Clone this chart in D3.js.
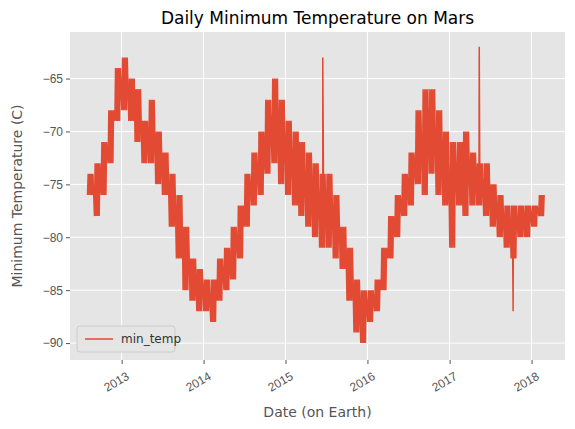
<!DOCTYPE html>
<html><head><meta charset="utf-8">
<script src="https://cdn.jsdelivr.net/npm/d3@7"></script>
<style>body{margin:0;background:#fff;font-family:"DejaVu Sans",sans-serif}</style>
</head><body><div id="chart"></div>
<script>
// monthly envelope of min_temp
const months = ["2012-08","2012-09","2012-10","2012-11","2012-12","2013-01","2013-02","2013-03","2013-04","2013-05","2013-06","2013-07","2013-08","2013-09","2013-10","2013-11","2013-12","2014-01","2014-02","2014-03","2014-04","2014-05","2014-06","2014-07","2014-08","2014-09","2014-10","2014-11","2014-12","2015-01","2015-02","2015-03","2015-04","2015-05","2015-06","2015-07","2015-08","2015-09","2015-10","2015-11","2015-12","2016-01","2016-02","2016-03","2016-04","2016-05","2016-06","2016-07","2016-08","2016-09","2016-10","2016-11","2016-12","2017-01","2017-02","2017-03","2017-04","2017-05","2017-06","2017-07","2017-08","2017-09","2017-10","2017-11","2017-12","2018-01","2018-02"];
const lows  = [-76,-78,-76,-73,-69,-68,-69,-71,-73,-73,-75,-76,-79,-82,-85,-86,-87,-87,-88,-86,-85,-84,-82,-79,-77,-76,-74,-73,-75,-76,-77,-78,-79,-80,-81,-81,-82,-83,-86,-89,-90,-88,-87,-85,-82,-80,-78,-77,-75,-76,-74,-76,-77,-81,-77,-78,-77,-77,-78,-79,-80,-81,-82,-80,-80,-79,-78];
const highs = [-74,-73,-71,-68,-64,-63,-65,-66,-69,-67,-70,-72,-74,-76,-79,-82,-83,-84,-84,-82,-81,-79,-77,-74,-72,-70,-67,-65,-67,-69,-70,-71,-72,-73,-74,-74,-76,-79,-81,-84,-85,-85,-84,-81,-78,-76,-74,-72,-68,-66,-66,-68,-70,-71,-71,-70,-72,-73,-73,-75,-76,-77,-77,-77,-77,-77,-76];
// isolated spikes
const spikeDates = ["2015-06-16","2017-05-13","2017-10-11"];
const spikeVals = [-63,-62,-87];
const yTicks = [-90,-85,-80,-75,-70,-65];
const xYears = [2013,2014,2015,2016,2017,2018];

const parse = d3.timeParse("%Y-%m-%d");
const points = [];
months.forEach((m, i) => {
  [2, 5, 9, 12, 16, 19, 23, 26].forEach((day, k) => {
    points.push({date: parse(`${m}-${String(day).padStart(2, "0")}`), v: k % 2 ? highs[i] : lows[i]});
  });
});
spikeDates.forEach((d, i) => points.push({date: parse(d), v: spikeVals[i]}));
points.sort((a, b) => a.date - b.date);

const width = 575, height = 429;
const margin = {top: 32, right: 10, bottom: 69, left: 70};
const x = d3.scaleTime()
  .domain([new Date(2012, 4, 16), new Date(2018, 4, 30)])
  .range([margin.left, width - margin.right]);
const y = d3.scaleLinear().domain([-91.6, -60.6]).range([height - margin.bottom, margin.top]);

const svg = d3.select("#chart").append("svg").attr("width", width).attr("height", height);
svg.append("rect").attr("x", margin.left).attr("y", margin.top)
  .attr("width", width - margin.left - margin.right).attr("height", height - margin.top - margin.bottom)
  .attr("fill", "#e5e5e5");

const xTicks = xYears.map((yr) => new Date(yr, 0, 1));
svg.append("g").selectAll("line").data(xTicks).join("line")
  .attr("x1", (d) => x(d)).attr("x2", (d) => x(d))
  .attr("y1", margin.top).attr("y2", height - margin.bottom)
  .attr("stroke", "#fff").attr("stroke-width", 1);
svg.append("g").selectAll("line").data(yTicks).join("line")
  .attr("x1", margin.left).attr("x2", width - margin.right)
  .attr("y1", (d) => y(d)).attr("y2", (d) => y(d))
  .attr("stroke", "#fff").attr("stroke-width", 1);

svg.append("path").datum(points)
  .attr("fill", "none").attr("stroke", "#E24A33").attr("stroke-width", 1.5)
  .attr("d", d3.line().x((d) => x(d.date)).y((d) => y(d.v)));

const xAxis = svg.append("g").attr("transform", `translate(0,${height - margin.bottom})`)
  .call(d3.axisBottom(x).tickValues(xTicks).tickFormat(d3.timeFormat("%Y")).tickSize(4));
xAxis.selectAll("text").attr("fill", "#555").attr("font-size", 12)
  .attr("text-anchor", "end").attr("transform", "rotate(-30)").attr("dx", "-0.2em").attr("dy", "1.1em");
const yAxis = svg.append("g").attr("transform", `translate(${margin.left},0)`)
  .call(d3.axisLeft(y).tickValues(yTicks).tickSize(4));
yAxis.selectAll("text").attr("fill", "#555").attr("font-size", 12);
svg.selectAll(".domain").remove();
svg.selectAll(".tick line").attr("stroke", "#555");

svg.append("text").attr("x", (margin.left + width - margin.right) / 2).attr("y", 24)
  .attr("text-anchor", "middle").attr("font-size", 17).attr("fill", "#000")
  .text("Daily Minimum Temperature on Mars");
svg.append("text").attr("x", (margin.left + width - margin.right) / 2).attr("y", 417)
  .attr("text-anchor", "middle").attr("font-size", 14).attr("fill", "#555").text("Date (on Earth)");
svg.append("text").attr("transform", `translate(22,${(margin.top + height - margin.bottom) / 2}) rotate(-90)`)
  .attr("text-anchor", "middle").attr("font-size", 14).attr("fill", "#555").text("Minimum Temperature (C)");

const legend = svg.append("g").attr("transform", "translate(77,326)");
legend.append("rect").attr("width", 98).attr("height", 26).attr("rx", 3)
  .attr("fill", "#e5e5e5").attr("stroke", "#ccc");
legend.append("line").attr("x1", 8).attr("x2", 36).attr("y1", 13).attr("y2", 13)
  .attr("stroke", "#E24A33").attr("stroke-width", 1.5);
legend.append("text").attr("x", 44).attr("y", 17).attr("font-size", 12).attr("fill", "#333").text("min_temp");
</script></body></html>
